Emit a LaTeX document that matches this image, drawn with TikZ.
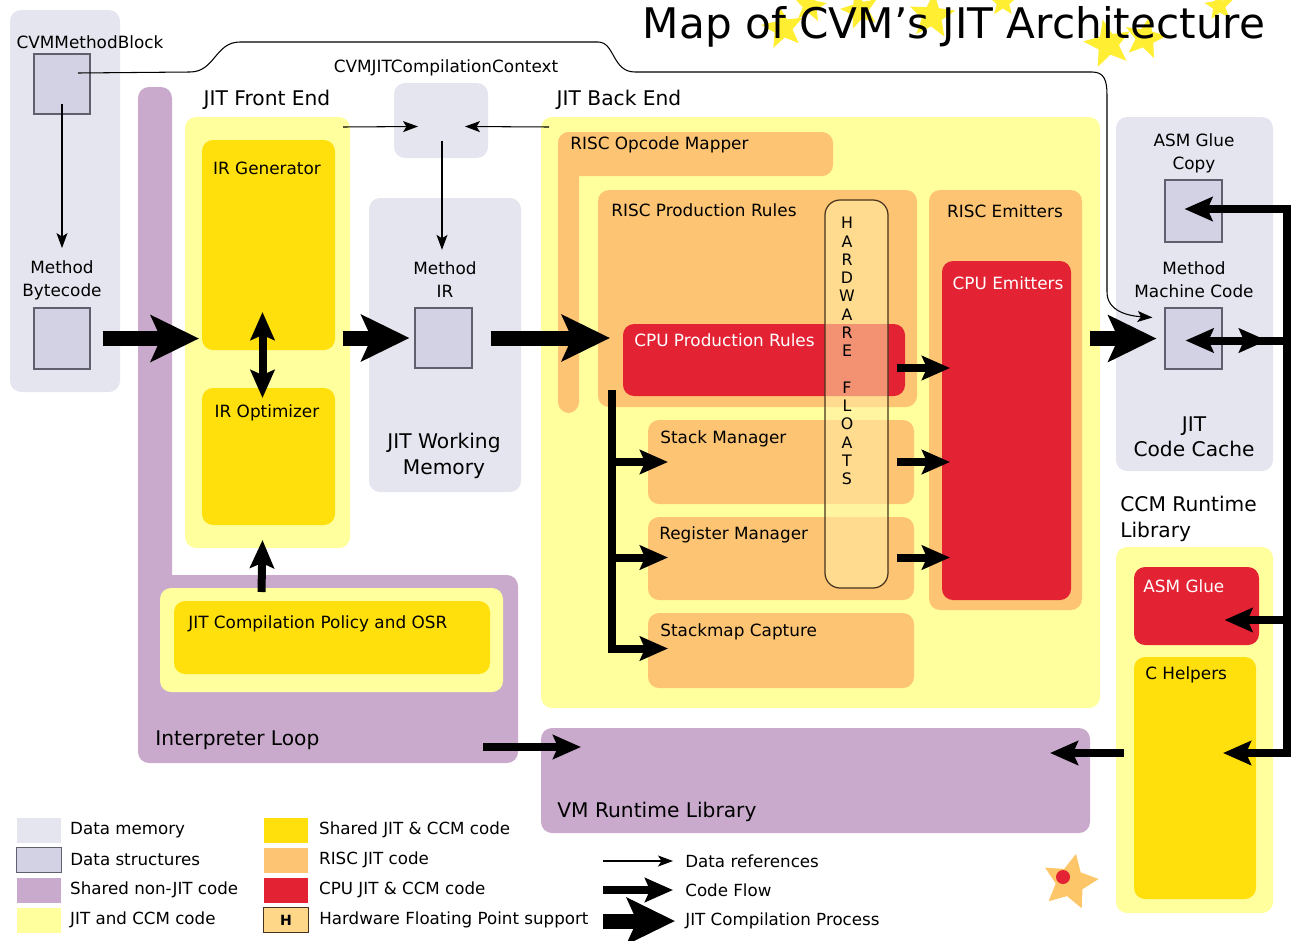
\documentclass[tikz,border=0pt]{standalone}
\usepackage{fontspec}
\setmainfont{DejaVu Sans}
\usepackage{xcolor}
\usepackage{tikz}
\usetikzlibrary{calc, arrows.meta, shapes, fit, positioning}
\definecolor{memgray}{RGB}{229, 229, 240}
\definecolor{structblue}{RGB}{210, 210, 228}
\definecolor{structedge}{RGB}{95, 95, 110}
\definecolor{nonjitpurple}{RGB}{201, 170, 205}
\definecolor{jitccmyellow}{RGB}{255, 255, 158}
\definecolor{sharedgold}{RGB}{255, 223, 12}
\definecolor{riscorange}{RGB}{253, 197, 115}
\definecolor{cpured}{RGB}{227, 35, 52}
\definecolor{hwtan}{RGB}{255, 238, 165}
\definecolor{hwedge}{RGB}{70, 50, 30}
\definecolor{staryellow}{RGB}{255, 238, 50}
\definecolor{badgeorange}{RGB}{252, 198, 105}
\newcommand{\wtext}[1]{{\color{white} #1}}
\tikzset{
    reftip/.tip = {Stealth[length=0.3cm, width=0.22cm, inset=0.07cm]},
    flowtip/.tip = {Stealth[length=0.56cm, width=0.48cm, inset=0.1cm]},
    jittip/.tip = {Stealth[length=0.96cm, width=0.92cm, inset=0.2cm]},
    areanode/.style = {draw=none, rectangle, rounded corners=0.22cm, inner sep=0em, outer sep=0em},
    memnode/.style = {areanode, fill=memgray},
    structnode/.style = {draw=structedge, fill=structblue, rectangle, inner sep=0em, line width=0.6pt},
    nonjitnode/.style = {areanode, fill=nonjitpurple},
    jitccmnode/.style = {areanode, fill=jitccmyellow},
    sharednode/.style = {areanode, fill=sharedgold},
    riscnode/.style = {areanode, fill=riscorange},
    cpunode/.style = {areanode, fill=cpured},
    hwnode/.style = {draw=hwedge, fill=hwtan, fill opacity=0.55, rectangle, rounded corners=0.3cm,
      line width=0.7pt, inner sep=0em},
    textnode/.style = {draw=none, fill=none, inner sep=0em, align=center,
      font=\fontsize{9.6pt}{13pt}\selectfont},
    lefttext/.style = {textnode, anchor=west, align=left},
    bigtextnode/.style = {textnode, font=\fontsize{11.5pt}{14.5pt}\selectfont},
    hwletters/.style = {textnode, font=\fontsize{9pt}{10.4pt}\selectfont},
    titlenode/.style = {textnode, font=\fontsize{24pt}{28pt}\selectfont},
    keynode/.style = {rectangle, inner sep=0em, minimum width=0.9cm, minimum height=0.5cm},
    keytextnode/.style = {textnode, align=left, font=\fontsize{9.5pt}{11pt}\selectfont},
    titlestar/.style = {star, star points=5, star point ratio=2.3, fill=staryellow, draw=none, inner sep=0em},
    dataref/.style = {black, line width=0.6pt, -reftip},
    codeline/.style = {black, line width=0.16cm},
    codeflow/.style = {codeline, -flowtip},
    codeflowboth/.style = {codeline, flowtip-flowtip},
    jitflow/.style = {black, line width=0.3cm, -jittip}
}

\begin{document}
\begin{tikzpicture}[x=0.02cm, y=-0.02cm]
    \useasboundingbox (0,0) rectangle (1291,940);

    % title with its stars
    \node [name=tstar1, titlestar, minimum size=0.88cm, rotate=10] at (783,28) {};
    \node [name=tstar2, titlestar, minimum size=0.68cm, rotate=-8] at (810,6) {};
    \node [name=tstar3, titlestar, minimum size=0.8cm, rotate=15] at (860,10) {};
    \node [name=tstar4, titlestar, minimum size=0.96cm, rotate=-5] at (932,16) {};
    \node [name=tstar5, titlestar, minimum size=0.6cm] at (1003,2) {};
    \node [name=tstar6, titlestar, minimum size=1cm, rotate=12] at (1108,44) {};
    \node [name=tstar7, titlestar, minimum size=0.88cm, rotate=-12] at (1145,38) {};
    \node [name=tstar8, titlestar, minimum size=0.6cm, rotate=6] at (1219,6) {};
    \node [name=title, titlenode] at (954,27) {Map of CVM's JIT Architecture};

    % memory areas and code blocks
    \node [name=methodarea, memnode, fit={(10,10) (120,392)}] {};
    \node [name=interpbar, nonjitnode, fit={(138,87) (172,760)}] {};
    \node [name=interp, nonjitnode, fit={(138,575) (518,763)}] {};
    \node [name=policyouter, jitccmnode, fit={(160,588) (503,692)}] {};
    \node [name=policy, sharednode, fit={(174,601) (490,674)}] {};
    \node [name=frontend, jitccmnode, fit={(185,117) (350,548)}] {};
    \node [name=irgen, sharednode, fit={(202,140) (335,350)}] {};
    \node [name=iropt, sharednode, fit={(202,388) (335,525)}] {};
    \node [name=context, memnode, fit={(394,83) (488,158)}] {};
    \node [name=workmem, memnode, fit={(369,198) (521,492)}] {};
    \node [name=backend, jitccmnode, fit={(541,117) (1100,708)}] {};
    \node [name=riscmap, riscnode, fit={(558,132) (833,176)}] {};
    \node [name=riscmapbar, riscnode, fit={(558,132) (579,413)}] {};
    \node [name=riscrules, riscnode, fit={(598,190) (917,407)}] {};
    \node [name=cpurules, cpunode, fit={(623,324) (905,396)}] {};
    \node [name=stackmgr, riscnode, fit={(648,420) (914,504)}] {};
    \node [name=regmgr, riscnode, fit={(648,517) (914,600)}] {};
    \node [name=stackmap, riscnode, fit={(648,613) (914,688)}] {};
    \node [name=riscemit, riscnode, fit={(929,190) (1082,610)}] {};
    \node [name=cpuemit, cpunode, fit={(942,261) (1071,600)}] {};
    \node [name=hwfloats, hwnode, fit={(825,200) (888,588)}] {};
    \node [name=codecache, memnode, fit={(1116,117) (1273,471)}] {};
    \node [name=ccmlib, jitccmnode, fit={(1116,547) (1273,913)}] {};
    \node [name=asmglue, cpunode, fit={(1134,567) (1259,645)}] {};
    \node [name=chelpers, sharednode, fit={(1134,657) (1256,899)}] {};
    \node [name=vmrt, nonjitnode, fit={(541,728) (1090,833)}] {};

    \node [name=methodblock, structnode, fit={(34,54) (90,114)}] {};
    \node [name=bytecode, structnode, fit={(34,308) (90,369)}] {};
    \node [name=methodir, structnode, fit={(415,308) (472,368)}] {};
    \node [name=asmcopy, structnode, fit={(1165,180) (1222,242)}] {};
    \node [name=machcode, structnode, fit={(1165,308) (1222,369)}] {};

    % labels
    \node [name=methodblocktext, textnode] at (90,42) {CVMMethodBlock};
    \node [name=bytecodetext, textnode] at (62,280) {Method\\Bytecode};
    \node [name=frontendtext, bigtextnode] at (267,100) {JIT Front End};
    \node [name=irgentext, textnode] at (267,168) {IR Generator};
    \node [name=iropttext, textnode] at (267,413) {IR Optimizer};
    \node [name=contexttext, textnode] at (446,68) {CVMJITCompilationContext};
    \node [name=methodirtext, textnode] at (445,280) {Method\\IR};
    \node [name=workmemtext, bigtextnode] at (444,456) {JIT Working\\Memory};
    \node [name=backendtext, bigtextnode] at (619,100) {JIT Back End};
    \node [name=riscmaptext, lefttext] at (570,145) {RISC Opcode Mapper};
    \node [name=riscrulestext, lefttext] at (611,210) {RISC Production Rules};
    \node [name=cpurulestext, lefttext] at (634,340) {\wtext{CPU Production Rules}};
    \node [name=stackmgrtext, lefttext] at (660,439) {Stack Manager};
    \node [name=regmgrtext, lefttext] at (659,535) {Register Manager};
    \node [name=stackmaptext, lefttext] at (660,632) {Stackmap Capture};
    \node [name=riscemittext, textnode] at (1005,211) {RISC Emitters};
    \node [name=cpuemittext, textnode] at (1008,283) {\wtext{CPU Emitters}};
    \node [name=hwtext, hwletters] at (847,351)
        {H\\A\\R\\D\\W\\A\\R\\E\\\phantom{E}\\F\\L\\O\\A\\T\\S};
    \node [name=asmcopytext, textnode] at (1194,153) {ASM Glue\\Copy};
    \node [name=machcodetext, textnode] at (1194,280) {Method\\Machine Code};
    \node [name=codecachetext, bigtextnode] at (1194,437) {JIT\\Code Cache};
    \node [name=ccmlibtext, bigtextnode, anchor=west, align=left] at (1120,519) {CCM Runtime\\Library};
    \node [name=asmgluetext, lefttext] at (1143,586) {\wtext{ASM Glue}};
    \node [name=chelperstext, lefttext] at (1145,675) {C Helpers};
    \node [name=policytext, lefttext] at (188,624) {JIT Compilation Policy and OSR};
    \node [name=interptext, bigtextnode, anchor=west] at (155,740) {Interpreter Loop};
    \node [name=vmrttext, bigtextnode, anchor=west] at (557,812) {VM Runtime Library};

    % data references
    \draw [dataref, shorten >=0.24cm] ($(methodblock.center)+(0,20)$) -- (bytecodetext.north);
    \draw [dataref] ($(methodblock.center)+(16,-11)$) -- (190,72)
        .. controls (215,72) and (215,42) .. (240,42) -- (598,42)
        .. controls (615,42) and (612,72) .. (635,72) -- (1092,72)
        .. controls (1104,72) and (1107,80) .. (1107,95) -- (1107,292)
        .. controls (1107,312) and (1130,316) .. ($(machcode.north west)+(-12,10)$);
    \draw [dataref] ($(frontend.north east)+(-7,10)$) -- ($(context.center)+(-23,6)$);
    \draw [dataref] ($(backend.north west)+(8,10)$) -- ($(context.center)+(24,6)$);
    \draw [dataref, shorten >=0.24cm] ($(context.center)+(1,20)$) -- ($(context.center |- methodirtext.north)+(1,0)$);

    % compilation process
    \draw [jitflow, shorten <=0.24cm, shorten >=0.06cm] (bytecode.east) -- (bytecode.east -| irgen.west);
    \draw [jitflow, shorten <=0.16cm, shorten >=0.1cm] (methodir.west -| irgen.east) -- (methodir.west);
    \draw [jitflow, shorten <=0.36cm, shorten >=0.26cm] (methodir.east) -- (methodir.east -| cpurules.west);
    \draw [jitflow, shorten <=0.16cm, shorten >=0.16cm] (machcode.west -| riscemit.east) -- (machcode.west);

    % code flow in the front end
    \draw [codeflowboth] ($(irgen.south)+(-6,-38)$) -- ($(iropt.north)+(-6,10)$);
    \draw [codeflow] ($(policyouter.north)+(-70,4)$) -- ($(frontend.south)+(-5,-8)$);

    % code flow in the back end
    \coordinate (fork) at ($(cpurules.south west)+(-11,-6)$);
    \draw [codeflow] (fork) |- ($(stackmap.west)+(20,-2)$);
    \draw [codeflow] (fork |- stackmgr.west) -- ($(stackmgr.west)+(20,0)$);
    \draw [codeflow] ($(fork |- regmgr.west)+(0,-1)$) -- ($(regmgr.west)+(20,-1)$);
    \draw [codeflow] ($(cpurules.east)+(-8,8)$) -- ($(cpurules.east -| cpuemit.west)+(8,8)$);
    \draw [codeflow] ($(stackmgr.east)+(-17,0)$) -- ($(stackmgr.east -| cpuemit.west)+(8,0)$);
    \draw [codeflow] ($(regmgr.east)+(-17,-1)$) -- ($(regmgr.east -| cpuemit.west)+(8,-1)$);

    % runtime calls on the right
    \coordinate (railtop) at (1287,209);
    \coordinate (railbot) at (1287,753);
    \draw [codeflow] (railbot) -- (railtop) -- ($(railtop -| asmcopy.west)+(20,0)$);
    \draw [codeflow] (railtop) -- (railbot) -- ($(railbot -| chelpers.center)+(28,0)$);
    \draw [codeflow] ($(railtop |- asmglue.center)+(0,14)$) -- ($(asmglue.center)+(28,14)$);
    \draw [codeflowboth] ($(machcode.center)+(-8,2)$) -- ($(railtop |- machcode.center)+(-20,2)$);
    \draw [codeline] ($(railtop |- machcode.center)+(-36,2)$) -- ($(railtop |- machcode.center)+(0,2)$);
    \draw [codeflow] ($(ccmlib.west |- railbot)+(8,0)$) -- ($(vmrt.east |- railbot)+(-40,0)$);
    \draw [codeflow] ($(interp.east)+(-35,78)$) -- ($(interp.east -| vmrt.west)+(40,78)$);

    % badge
    \node [name=badge, star, star points=5, star point ratio=2, fill=badgeorange, inner sep=0em,
        minimum size=1.15cm, rotate=-12] at (1070,882) {};
    \node [name=badgedot, circle, fill=cpured, inner sep=0em, minimum size=0.28cm] at (1063,877) {};

    % key
    \node [name=keymem, keynode, fill=memgray] at (39,830) {};
    \node [name=keystruct, keynode, fill=structblue, draw=structedge, line width=0.6pt] at (39,860) {};
    \node [name=keynonjit, keynode, fill=nonjitpurple] at (39,890) {};
    \node [name=keyjitccm, keynode, fill=jitccmyellow] at (39,920) {};
    \node [name=keymemtext, keytextnode, right=0.16cm of keymem] {Data memory};
    \node [name=keystructtext, keytextnode, right=0.16cm of keystruct] {Data structures};
    \node [name=keynonjittext, keytextnode, right=0.16cm of keynonjit] {Shared non-JIT code};
    \node [name=keyjitccmtext, keytextnode, right=0.16cm of keyjitccm] {JIT and CCM code};

    \node [name=keyshared, keynode, fill=sharedgold] at (286,830) {};
    \node [name=keyrisc, keynode, fill=riscorange] at (286,860) {};
    \node [name=keycpu, keynode, fill=cpured] at (286,890) {};
    \node [name=keyhw, keynode, fill=riscorange!55!hwtan, draw=hwedge, line width=0.6pt,
        font=\fontsize{8pt}{9pt}\selectfont\bfseries] at (286,920) {H};
    \node [name=keysharedtext, keytextnode, right=0.2cm of keyshared] {Shared JIT \& CCM code};
    \node [name=keyrisctext, keytextnode, right=0.2cm of keyrisc] {RISC JIT code};
    \node [name=keycputext, keytextnode, right=0.2cm of keycpu] {CPU JIT \& CCM code};
    \node [name=keyhwtext, keytextnode, right=0.2cm of keyhw] {Hardware Floating Point support};

    \node [name=keyreftext, keytextnode, anchor=west] at (685,861) {Data references};
    \node [name=keyflowtext, keytextnode, anchor=west] at (685,890) {Code Flow};
    \node [name=keyjittext, keytextnode, anchor=west] at (685,921) {JIT Compilation Process};
    \coordinate (keyref) at (603,861);
    \coordinate (keyflow) at (603,890);
    \coordinate (keyjit) at (603,921);
    \draw [dataref, shorten >=0.24cm] (keyref) -- (keyreftext.west);
    \draw [codeflow, shorten >=0.24cm] (keyflow) -- (keyflowtext.west);
    \draw [jitflow, shorten >=0.2cm] (keyjit) -- (keyjittext.west);
\end{tikzpicture}
\end{document}
